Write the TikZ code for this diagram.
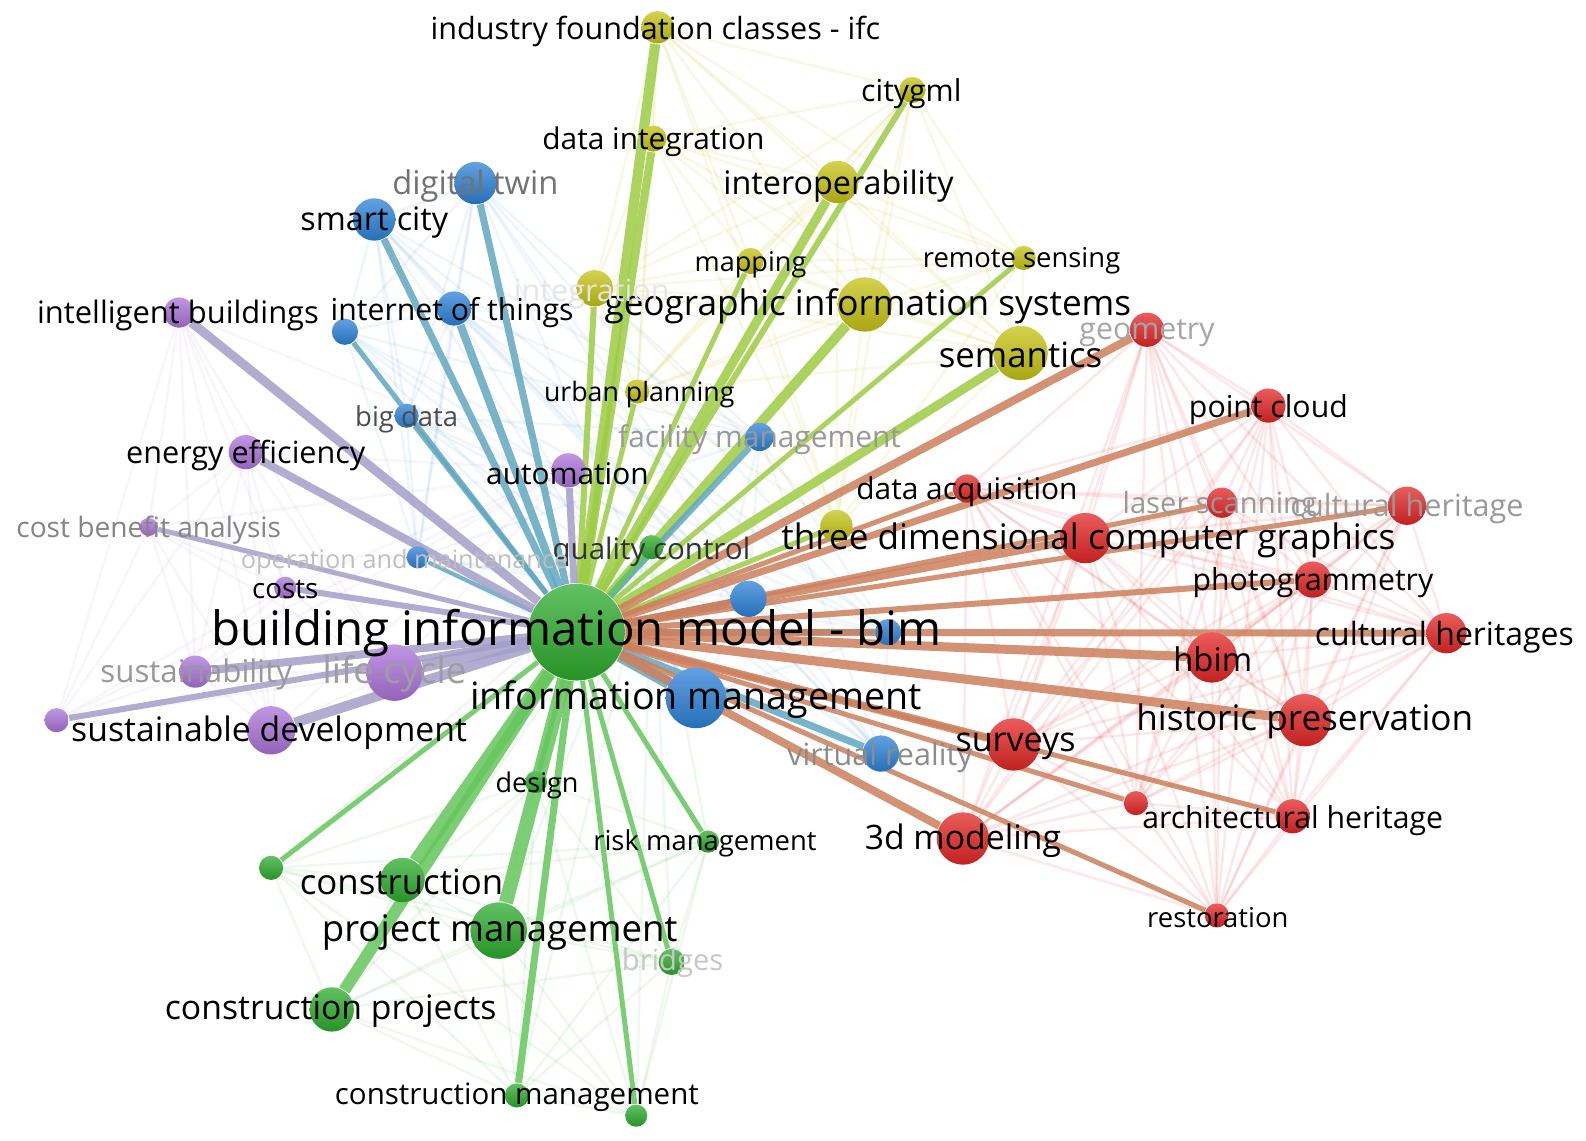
\documentclass[tikz,border=0pt]{standalone}
\usepackage{fontspec}
\setmainfont{Open Sans}
\usepackage{tikz}
\usetikzlibrary{backgrounds}
\definecolor{redkw}{RGB}{228,38,38}
\definecolor{greenkw}{RGB}{46,172,46}
\definecolor{bluekw}{RGB}{45,130,215}
\definecolor{yellowkw}{RGB}{198,196,20}
\definecolor{purplekw}{RGB}{172,116,218}
\definecolor{edgered}{RGB}{205,128,92}
\definecolor{edgeyellow}{RGB}{158,204,68}
\definecolor{edgeblue}{RGB}{98,168,192}
\definecolor{edgepurple}{RGB}{164,158,200}
\definecolor{edgegreen}{RGB}{102,198,92}

\begin{document}
\begin{tikzpicture}[x=0.010115cm, y=-0.010115cm,
    ball/.style={circle, inner sep=0pt, minimum size=#1*0.5735pt},
    rd/.style={top color=redkw!75!white, bottom color=redkw!85!black},
    gn/.style={top color=greenkw!75!white, bottom color=greenkw!85!black},
    bl/.style={top color=bluekw!75!white, bottom color=bluekw!85!black},
    yl/.style={top color=yellowkw!75!white, bottom color=yellowkw!85!black},
    pu/.style={top color=purplekw!75!white, bottom color=purplekw!85!black},
    kw/.style={font=\fontsize{#1}{#1}\selectfont, inner sep=0pt, text=black, yshift=-1.2pt},
    link/.style={draw=#1, draw opacity=0.85},
    mesh/.style={draw=#1, line width=0.7pt}]

  \begin{scope}[on background layer]
    \fill[white] (0,0) rectangle (1568,1128);
  \end{scope}
  \useasboundingbox (0,0) rectangle (1568,1128);

  % green cluster
  \node[ball=48, gn] (bim) at (570,625) {};
  \node[ball=22, gn] (construction) at (398,870) {};
  \node[ball=28, gn] (projmgmt) at (493,920) {};
  \node[ball=22, gn] (constrproj) at (328,998) {};
  \node[ball=12, gn] (constrmgmt) at (511,1083) {};
  \node[ball=11, gn] (greenA) at (629,1103) {};
  \node[ball=11, gn] (design) at (530,773) {};
  \node[ball=11, gn] (riskmgmt) at (700,832) {};
  \node[ball=13, gn] (bridges) at (664,951) {};
  \node[ball=12, gn] (qualctrl) at (644,541) {};
  \node[ball=12, gn] (greenB) at (268,858) {};

  % purple cluster
  \node[ball=28, pu] (lifecycle) at (390,665) {};
  \node[ball=16, pu] (sustainability) at (193,664) {};
  \node[ball=24, pu] (sustdev) at (268,722) {};
  \node[ball=12, pu] (purpleA) at (56,712) {};
  \node[ball=11, pu] (costs) at (282,581) {};
  \node[ball=9, pu] (costbenefit) at (147,521) {};
  \node[ball=17, pu] (energyeff) at (243,447) {};
  \node[ball=15, pu] (intellbuild) at (177,309) {};
  \node[ball=17, pu] (automation) at (562,465) {};

  % blue cluster
  \node[ball=30, bl] (infomgmt) at (688,690) {};
  \node[ball=21, bl] (digitaltwin) at (470,181) {};
  \node[ball=21, bl] (smartcity) at (370,217) {};
  \node[ball=17, bl] (iot) at (449,305) {};
  \node[ball=13, bl] (blueA) at (341,328) {};
  \node[ball=12, bl] (bigdata) at (402,411) {};
  \node[ball=14, bl] (facilitymgmt) at (751,432) {};
  \node[ball=11, bl] (opmaint) at (413,551) {};
  \node[ball=18, bl] (blueB) at (740,592) {};
  \node[ball=13, bl] (blueC) at (878,625) {};
  \node[ball=18, bl] (virtreal) at (871,745) {};

  % yellow cluster
  \node[ball=16, yl] (ifc) at (650,27) {};
  \node[ball=13, yl] (citygml) at (902,89) {};
  \node[ball=13, yl] (dataint) at (646,137) {};
  \node[ball=21, yl] (interop) at (828,180) {};
  \node[ball=13, yl] (mapping) at (742,258) {};
  \node[ball=12, yl] (remotesens) at (1012,255) {};
  \node[ball=27, yl] (gis) at (855,301) {};
  \node[ball=27, yl] (semantics) at (1009,349) {};
  \node[ball=12, yl] (urbanplan) at (630,387) {};
  \node[ball=18, yl] (integration) at (588,285) {};
  \node[ball=16, yl] (yellowA) at (827,520) {};

  % red cluster
  \node[ball=17, rd] (geometry) at (1134,326) {};
  \node[ball=17, rd] (pointcloud) at (1254,401) {};
  \node[ball=14, rd] (dataacq) at (956,483) {};
  \node[ball=15, rd] (laserscan) at (1208,497) {};
  \node[ball=19, rd] (culther) at (1391,500) {};
  \node[ball=25, rd] (threedcg) at (1073,532) {};
  \node[ball=18, rd] (photogr) at (1298,573) {};
  \node[ball=20, rd] (culthers) at (1430,626) {};
  \node[ball=25, rd] (hbim) at (1198,650) {};
  \node[ball=26, rd] (histpres) at (1290,712) {};
  \node[ball=26, rd] (surveys) at (1002,736) {};
  \node[ball=17, rd] (archher) at (1278,807) {};
  \node[ball=12, rd] (redA) at (1123,794) {};
  \node[ball=26, rd] (modeling) at (952,829) {};
  \node[ball=12, rd] (restoration) at (1203,905) {};

  % faint links inside the clusters
  \def\redlist{geometry,pointcloud,dataacq,laserscan,culther,threedcg,photogr,culthers,hbim,histpres,surveys,archher,redA,modeling,restoration}
  \def\yellowlist{ifc,citygml,dataint,interop,mapping,remotesens,gis,semantics,urbanplan,integration,yellowA}
  \def\bluelist{digitaltwin,smartcity,iot,blueA,bigdata,facilitymgmt,opmaint,blueB,blueC,virtreal,infomgmt}
  \def\greenlist{construction,projmgmt,constrproj,constrmgmt,greenA,design,riskmgmt,bridges,qualctrl,greenB}
  \def\purplelist{lifecycle,sustainability,sustdev,purpleA,costs,costbenefit,energyeff,intellbuild,automation}
  \begin{scope}[on background layer]
    \foreach \lst/\col/\op in {\redlist/redkw/0.1,\yellowlist/yellowkw/0.11,\bluelist/bluekw/0.08,\greenlist/greenkw/0.08,\purplelist/purplekw/0.07}{
      \edef\members{\lst}
      \foreach \a [count=\i] in \members {
        \foreach \b [count=\j] in \members {
          \ifnum\j>\i \path (\a) edge[mesh=\col, draw opacity=\op] (\b); \fi
        }
      }
    }
  \end{scope}

  % links to bim
  \begin{scope}[on background layer]
    \foreach \t/\w/\c in {ifc/10/edgeyellow, dataint/8/edgeyellow, citygml/6/edgeyellow,
        interop/9/edgeyellow, mapping/5/edgeyellow, remotesens/5/edgeyellow, gis/10/edgeyellow,
        semantics/9/edgeyellow, urbanplan/5/edgeyellow, integration/6/edgeyellow, yellowA/5/edgeyellow,
        digitaltwin/7/edgeblue, smartcity/7/edgeblue, iot/8/edgeblue, blueA/5/edgeblue,
        bigdata/5/edgeblue, facilitymgmt/6/edgeblue, opmaint/4/edgeblue, blueB/6/edgeblue,
        blueC/6/edgeblue, virtreal/7/edgeblue, infomgmt/12/edgeblue,
        intellbuild/9/edgepurple, energyeff/8/edgepurple, costbenefit/5/edgepurple, costs/6/edgepurple,
        sustainability/8/edgepurple, lifecycle/12/edgepurple, sustdev/10/edgepurple,
        purpleA/6/edgepurple, automation/7/edgepurple,
        construction/14/edgegreen, projmgmt/14/edgegreen, constrproj/12/edgegreen,
        constrmgmt/7/edgegreen, greenA/5/edgegreen, design/5/edgegreen, riskmgmt/5/edgegreen,
        bridges/5/edgegreen, greenB/5/edgegreen, qualctrl/5/edgegreen,
        geometry/8/edgered, pointcloud/7/edgered, dataacq/5/edgered, laserscan/5/edgered,
        culther/5/edgered, threedcg/8/edgered, photogr/6/edgered, culthers/7/edgered,
        hbim/9/edgered, histpres/9/edgered, surveys/8/edgered, archher/5/edgered,
        redA/5/edgered, modeling/8/edgered, restoration/5/edgered}
      \path (bim) edge[link=\c, line width=\w*0.2867pt] (\t);
  \end{scope}

  % labels
  \node[kw=13.5] (bim-t) at (570,622) {building information model - bim};
  \node[kw=10.7] (infomgmt-t) at (688,688) {information management};
  \node[kw=9.9] (construction-t) at (397,868) {construction};
  \node[kw=10.4] (projmgmt-t) at (494,918) {project management};
  \node[kw=9.6] (constrproj-t) at (327,996) {construction projects};
  \node[kw=8.4] (constrmgmt-t) at (511,1081) {construction management};
  \node[kw=7.7] (design-t) at (531,772) {design};
  \node[kw=7.8] (riskmgmt-t) at (697,830) {risk management};
  \node[kw=8.3, text=black!22] (bridges-t) at (665,948) {bridges};
  \node[kw=8.4, text=black!80] (qualctrl-t) at (644,541) {quality control};

  \node[kw=10.4, text=black!38] (lifecycle-t) at (390,662) {life cycle};
  \node[kw=8.9, text=black!40] (sustainability-t) at (194,663) {sustainability};
  \node[kw=9.6] (sustdev-t) at (266,720) {sustainable development};
  \node[kw=7.9] (costs-t) at (282,579) {costs};
  \node[kw=8, text=black!48] (costbenefit-t) at (147,520) {cost benefit analysis};
  \node[kw=8.7] (energyeff-t) at (243,446) {energy efficiency};
  \node[kw=8.8] (intellbuild-t) at (176,308) {intelligent buildings};
  \node[kw=8.5] (automation-t) at (561,464) {automation};

  \node[kw=9.3, text=black!55] (digitaltwin-t) at (470,180) {digital twin};
  \node[kw=9.2] (smartcity-t) at (370,216) {smart city};
  \node[kw=8.6] (iot-t) at (447,305) {internet of things};
  \node[kw=7.8, text=black!70] (bigdata-t) at (402,410) {big data};
  \node[kw=8.5, text=black!40] (facilitymgmt-t) at (751,431) {facility management};
  \node[kw=7.2, text=black!25] (opmaint-t) at (400,551) {operation and maintenance};
  \node[kw=8.7, text=black!45] (virtreal-t) at (870,745) {virtual reality};

  \node[kw=8.7] (ifc-t) at (648,27) {industry foundation classes - ifc};
  \node[kw=8.6] (citygml-t) at (901,88) {citygml};
  \node[kw=8.5] (dataint-t) at (646,136) {data integration};
  \node[kw=9.2] (interop-t) at (829,180) {interoperability};
  \node[kw=7.7] (mapping-t) at (742,258) {mapping};
  \node[kw=7.8] (remotesens-t) at (1010,254) {remote sensing};
  \node[kw=10] (gis-t) at (858,299) {geographic information systems};
  \node[kw=9.9] (semantics-t) at (1009,347) {semantics};
  \node[kw=7.6] (urbanplan-t) at (632,386) {urban planning};
  \node[kw=8.7, text=black!10] (integration-t) at (585,286) {integration};

  \node[kw=8.6, text=black!35] (geometry-t) at (1134,325) {geometry};
  \node[kw=8.6] (pointcloud-t) at (1254,401) {point cloud};
  \node[kw=8.5] (dataacq-t) at (956,482) {data acquisition};
  \node[kw=8.3, text=black!40] (laserscan-t) at (1206,496) {laser scanning};
  \node[kw=8.7, text=black!40] (culther-t) at (1391,499) {cultural heritage};
  \node[kw=10] (threedcg-t) at (1076,530) {three dimensional computer graphics};
  \node[kw=8.6] (photogr-t) at (1298,572) {photogrammetry};
  \node[kw=9.1] (culthers-t) at (1428,626) {cultural heritages};
  \node[kw=9.3] (hbim-t) at (1199,648) {hbim};
  \node[kw=10] (histpres-t) at (1290,709) {historic preservation};
  \node[kw=9.7] (surveys-t) at (1004,734) {surveys};
  \node[kw=8.6] (archher-t) at (1278,807) {architectural heritage};
  \node[kw=9.6] (modeling-t) at (952,827) {3d modeling};
  \node[kw=7.8] (restoration-t) at (1204,903) {restoration};
\end{tikzpicture}
\end{document}
